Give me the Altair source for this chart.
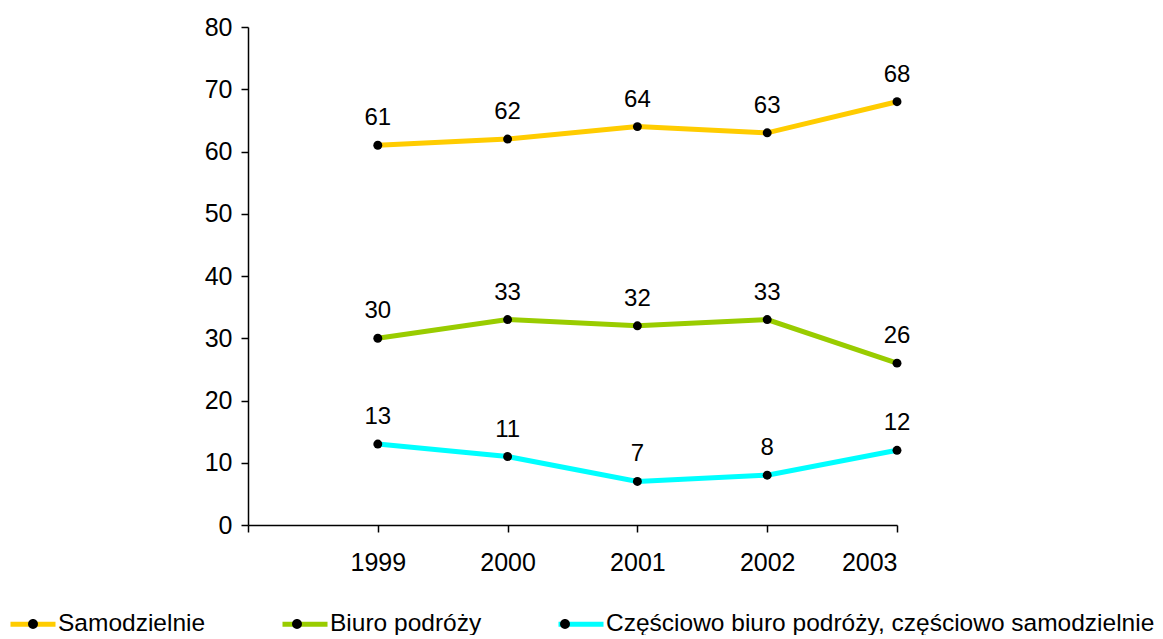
import altair as alt
import pandas as pd

years = [1999, 2000, 2001, 2002, 2003]
series_names = ["Samodzielnie", "Biuro podróży", "Częściowo biuro podróży, częściowo samodzielnie"]
samodzielnie = [61, 62, 64, 63, 68]
biuro = [30, 33, 32, 33, 26]
czesciowo = [13, 11, 7, 8, 12]
colors = ["#FFCC00", "#99CC00", "#00FFFF"]

rows = []
for name, vals in zip(series_names, [samodzielnie, biuro, czesciowo]):
    for y, v in zip(years, vals):
        rows.append({"rok": y, "wartosc": v, "seria": name, "seria_p": name})
df = pd.DataFrame(rows)

FONT = "Liberation Sans"
LEG_X, LEG_Y = -240, 572
COL_PAD = 66
SYM_SIZE = 2025
LEG_FONT = 24.5

x = alt.X("rok:Q", scale=alt.Scale(domain=[1998, 2003], nice=False, zero=False),
          axis=alt.Axis(values=[1998, 1999, 2000, 2001, 2002, 2003],
                        labelExpr="datum.value == 1998 ? '' : datum.label",
                        format="d", title=None, grid=False, domainColor="black",
                        domainWidth=1.5, tickColor="black", tickWidth=1.5, tickSize=7,
                        labelFontSize=25, labelPadding=18, labelColor="black",
                        labelFont=FONT))
y = alt.Y("wartosc:Q", scale=alt.Scale(domain=[0, 80], nice=False),
          axis=alt.Axis(values=list(range(0, 81, 10)), title=None, grid=False,
                        domainColor="black", domainWidth=1.5, tickColor="black",
                        tickWidth=1.5, tickSize=7, labelFontSize=25, labelPadding=9,
                        labelColor="black", labelFont=FONT))

color = alt.Color("seria:N", scale=alt.Scale(domain=series_names, range=colors),
                  legend=alt.Legend(title=None, orient="none", direction="horizontal",
                                    legendX=LEG_X, legendY=LEG_Y,
                                    symbolType="M-1,0H1",
                                    symbolSize=SYM_SIZE, symbolStrokeWidth=5,
                                    labelFontSize=LEG_FONT, labelLimit=1000,
                                    labelFont=FONT, labelColor="black",
                                    columnPadding=COL_PAD, labelOffset=0))

fill = alt.Fill("seria_p:N", sort=series_names,
                scale=alt.Scale(range=["black", "black", "black"]),
                legend=alt.Legend(title=None, orient="none", direction="horizontal",
                                  legendX=LEG_X, legendY=LEG_Y,
                                  symbolType="M-0.22,0a0.22,0.22 0 1,0 0.44,0a0.22,0.22 0 1,0 -0.44,0",
                                  symbolSize=SYM_SIZE, symbolStrokeWidth=5,
                                  symbolStrokeColor="transparent",
                                  labelFontSize=LEG_FONT, labelLimit=1000,
                                  labelFont=FONT, labelColor="transparent",
                                  columnPadding=COL_PAD, labelOffset=0))

base = alt.Chart(df)
lines = base.mark_line(strokeWidth=5).encode(x=x, y=y, color=color)
points = base.mark_circle(size=80, opacity=1).encode(x=x, y=y, fill=fill)
labels = base.mark_text(dy=-27, fontSize=24, font=FONT, color="black").encode(
    x=x, y=y, text="wartosc:Q")

chart = alt.layer(lines, points, labels).properties(
    width=649, height=498,
    autosize=alt.AutoSizeParams(type="none"),
    padding={"left": 240, "top": 19, "right": 258, "bottom": 110},
).configure(background="white", view=alt.ViewConfig(stroke=None))

chart.save("out.html", embed_options={"renderer": "svg", "actions": False})
